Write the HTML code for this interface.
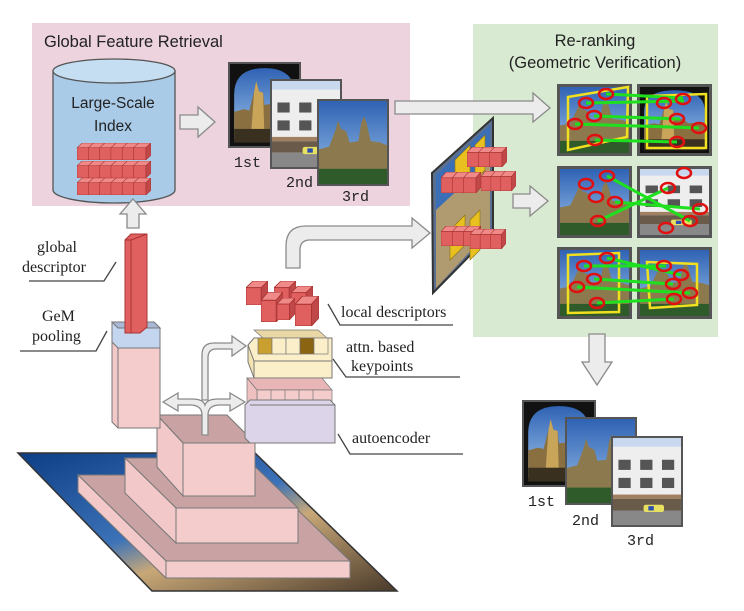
<!DOCTYPE html>
<html><head><meta charset="utf-8"><style>
html,body{margin:0;padding:0;background:#fff}
svg{display:block}
.t{font-family:"Liberation Sans",sans-serif;fill:#222}
.m{font-family:"Liberation Mono",monospace;fill:#222;font-size:15px}
.s{font-family:"Liberation Serif",serif;fill:#222;font-size:16px}
.ar{fill:#ececec;stroke:#8a8a8a;stroke-width:1.3}
.ln{fill:none;stroke:#444;stroke-width:1.3}
</style></head><body>
<svg width="744" height="611" viewBox="0 0 744 611" xmlns="http://www.w3.org/2000/svg">
<defs>
<linearGradient id="sky" x1="0" y1="0" x2="0" y2="1"><stop offset="0" stop-color="#2f62b4"/><stop offset="1" stop-color="#9dc4ea"/></linearGradient>
<linearGradient id="pyr" x1="0" y1="0" x2="1" y2="1"><stop offset="0" stop-color="#0d3e86"/><stop offset="0.45" stop-color="#3c72b8"/><stop offset="0.6" stop-color="#c8a878"/><stop offset="1" stop-color="#4a3a2a"/></linearGradient>
<symbol id="pA" viewBox="0 0 100 120" preserveAspectRatio="none">
<rect width="100" height="120" fill="#111"/>
<path d="M6 110 V45 Q6 6 50 6 Q94 6 94 45 V110Z" fill="url(#sky)"/>
<path d="M6 110 V70 L20 66 L28 68 L35 40 L38 25 L42 40 L48 42 L50 60 L62 58 L70 66 L94 64 V110Z" fill="#8a7040"/>
<path d="M35 40 L38 25 L42 40 L48 42 L50 110 L30 110Z" fill="#c9a55a"/>
<rect x="6" y="95" width="88" height="20" fill="#3a3020"/>
</symbol>
<symbol id="pB" viewBox="0 0 100 120" preserveAspectRatio="none">
<rect width="100" height="120" fill="#eeeeee"/>
<rect y="0" width="100" height="12" fill="#c8d8ee"/>
<rect x="8" y="30" width="18" height="14" fill="#555"/><rect x="40" y="30" width="18" height="14" fill="#555"/><rect x="72" y="30" width="18" height="14" fill="#555"/>
<rect x="8" y="55" width="18" height="14" fill="#555"/><rect x="40" y="55" width="18" height="14" fill="#555"/><rect x="72" y="55" width="18" height="14" fill="#555"/>
<rect x="0" y="78" width="100" height="6" fill="#a08060"/>
<rect x="0" y="84" width="100" height="16" fill="#6a5a4a"/>
<rect x="0" y="100" width="100" height="20" fill="#888"/>
<rect x="45" y="92" width="30" height="10" rx="3" fill="#e8e060"/><rect x="52" y="94" width="8" height="6" fill="#2a4fb0"/>
</symbol>
<symbol id="pC" viewBox="0 0 100 120" preserveAspectRatio="none">
<rect width="100" height="120" fill="url(#sky)"/>
<path d="M0 110 V70 L15 66 L25 40 L28 28 L32 40 L40 44 L45 60 L58 58 L62 32 L66 22 L70 32 L76 58 L90 60 L100 64 V110Z" fill="#8c7a4e"/>
<rect y="98" width="100" height="22" fill="#2f5a2a"/>
</symbol>
<symbol id="cube" viewBox="0 0 16 18" preserveAspectRatio="none">
<polygon points="0,5 5,0 16,0 11,5" fill="#ef8a88" stroke="#a33" stroke-width=".6"/>
<polygon points="11,5 16,0 16,13 11,18" fill="#c04848" stroke="#a33" stroke-width=".6"/>
<rect x="0" y="5" width="11" height="13" fill="#e06060" stroke="#a33" stroke-width=".6"/>
</symbol>
<symbol id="row6" viewBox="0 0 72 18" preserveAspectRatio="none">
<polygon points="0,5 5,0 72,0 67,5" fill="#ef8a88" stroke="#a33" stroke-width=".6"/>
<polygon points="67,5 72,0 72,13 67,18" fill="#c04848" stroke="#a33" stroke-width=".6"/>
<rect x="0" y="5" width="67" height="13" fill="#e06060" stroke="#a33" stroke-width=".6"/>
<path d="M11 5V18M22 5V18M33 5V18M44 5V18M55 5V18M16 0L11 5M27 0L22 5M38 0L33 5M49 0L44 5M60 0L55 5" stroke="#a33" stroke-width=".6"/>
</symbol>
<symbol id="row3" viewBox="0 0 39 18" preserveAspectRatio="none">
<polygon points="0,5 5,0 39,0 34,5" fill="#ef8a88" stroke="#a33" stroke-width=".6"/>
<polygon points="34,5 39,0 39,13 34,18" fill="#c04848" stroke="#a33" stroke-width=".6"/>
<rect x="0" y="5" width="34" height="13" fill="#e06060" stroke="#a33" stroke-width=".6"/>
<path d="M11 5V18M22 5V18M16 0L11 5M27 0L22 5" stroke="#a33" stroke-width=".6"/>
</symbol>
</defs>

<rect x="32" y="23" width="378" height="183" fill="#ecd3dd"/>
<text class="t" x="44" y="47" font-size="16.5">Global Feature Retrieval</text>
<path d="M53 71 V190 A61 13 0 0 0 175 190 V71Z" fill="#a9cbe8" stroke="#555" stroke-width="1.3"/>
<ellipse cx="114" cy="71" rx="61" ry="12" fill="#c6def2" stroke="#555" stroke-width="1.3"/>
<text class="t" x="113" y="108" font-size="15.5" text-anchor="middle">Large-Scale</text>
<text class="t" x="113" y="131" font-size="15.5" text-anchor="middle">Index</text>
<use href="#row6" x="77" y="143" width="74" height="17"/>
<use href="#row6" x="77" y="161" width="74" height="17"/>
<use href="#row6" x="77" y="178" width="74" height="17"/>
<polygon class="ar" points="180,115 198,115 198,107 215,122 198,137 198,129 180,129"/>
<rect x="228" y="62" width="73" height="86" fill="#555"/><use href="#pA" x="230" y="64" width="69" height="82"/>
<rect x="270" y="79" width="72" height="90" fill="#555"/><use href="#pB" x="272" y="81" width="68" height="86"/>
<rect x="317" y="99" width="72" height="87" fill="#555"/><use href="#pC" x="319" y="101" width="68" height="83"/>
<text class="m" x="234" y="167">1st</text>
<text class="m" x="286" y="187">2nd</text>
<text class="m" x="342" y="201">3rd</text>
<rect x="473" y="24" width="245" height="313" fill="#d9ead3"/>
<text class="t" x="595" y="46" font-size="16.5" text-anchor="middle">Re-ranking</text>
<text class="t" x="595" y="68" font-size="16.5" text-anchor="middle">(Geometric Verification)</text>
<polygon class="ar" points="395,101 533,101 533,93 550,108 533,122 533,114 395,114"/>
<polygon class="ar" points="127,228 127,214 120,214 133,199 146,214 139,214 139,228"/>
<g>
<rect x="557" y="84" width="75" height="72" fill="#555"/><use href="#pC" x="560" y="87" width="69" height="66"/>
<rect x="637" y="84" width="75" height="72" fill="#555"/><use href="#pA" x="640" y="87" width="69" height="66"/>
<rect x="557" y="166" width="75" height="72" fill="#555"/><use href="#pC" x="560" y="169" width="69" height="66"/>
<rect x="637" y="166" width="75" height="72" fill="#555"/><use href="#pB" x="640" y="169" width="69" height="66"/>
<rect x="557" y="247" width="75" height="72" fill="#555"/><use href="#pC" x="560" y="250" width="69" height="66"/>
<rect x="637" y="247" width="75" height="72" fill="#555"/><use href="#pC" x="640" y="250" width="69" height="66"/>
</g>
<g fill="none" stroke="#f0e020" stroke-width="2.5">
<polygon points="568,97 628,87 627,137 568,150"/>
<polygon points="647,96 706,94 706,148 647,148"/>
<polygon points="568,255 619,253 619,312 568,313"/>
<polygon points="647,262 697,264 697,305 650,308"/>
</g>
<g stroke="#1ee01e" stroke-width="3">
<line x1="606" y1="94" x2="683" y2="98"/><line x1="586" y1="103" x2="684" y2="101"/>
<line x1="594" y1="116" x2="680" y2="119"/><line x1="575" y1="124" x2="699" y2="128"/>
<line x1="595" y1="140" x2="677" y2="142"/>
<line x1="607" y1="176" x2="690" y2="221"/><line x1="598" y1="221" x2="668" y2="188"/>
<line x1="615" y1="202" x2="700" y2="209"/>
<line x1="607" y1="258" x2="681" y2="275"/><line x1="584" y1="266" x2="666" y2="266"/>
<line x1="594" y1="279" x2="673" y2="284"/><line x1="577" y1="287" x2="690" y2="293"/>
<line x1="597" y1="303" x2="674" y2="299"/>
</g>
<g fill="none" stroke="#e01010" stroke-width="2.5">
<ellipse cx="606" cy="94" rx="7" ry="5"/><ellipse cx="586" cy="103" rx="7" ry="5"/><ellipse cx="594" cy="116" rx="7" ry="5"/><ellipse cx="575" cy="124" rx="7" ry="5"/><ellipse cx="595" cy="140" rx="7" ry="5"/>
<ellipse cx="683" cy="99" rx="7" ry="5"/><ellipse cx="664" cy="103" rx="7" ry="5"/><ellipse cx="677" cy="119" rx="7" ry="5"/><ellipse cx="699" cy="128" rx="7" ry="5"/><ellipse cx="677" cy="142" rx="7" ry="5"/>
<ellipse cx="607" cy="176" rx="7" ry="5"/><ellipse cx="586" cy="184" rx="7" ry="5"/><ellipse cx="596" cy="197" rx="7" ry="5"/><ellipse cx="615" cy="202" rx="7" ry="5"/><ellipse cx="598" cy="221" rx="7" ry="5"/>
<ellipse cx="684" cy="173" rx="7" ry="5"/><ellipse cx="668" cy="188" rx="7" ry="5"/><ellipse cx="700" cy="209" rx="7" ry="5"/><ellipse cx="690" cy="221" rx="7" ry="5"/><ellipse cx="666" cy="228" rx="7" ry="5"/>
<ellipse cx="607" cy="258" rx="7" ry="5"/><ellipse cx="584" cy="266" rx="7" ry="5"/><ellipse cx="594" cy="279" rx="7" ry="5"/><ellipse cx="577" cy="287" rx="7" ry="5"/><ellipse cx="597" cy="303" rx="7" ry="5"/>
<ellipse cx="664" cy="266" rx="7" ry="5"/><ellipse cx="681" cy="275" rx="7" ry="5"/><ellipse cx="673" cy="284" rx="7" ry="5"/><ellipse cx="690" cy="293" rx="7" ry="5"/><ellipse cx="674" cy="299" rx="7" ry="5"/>
</g>
<polygon points="432,173 493,118 493,232 433,293" fill="#5a6f8f" stroke="#333" stroke-width="2"/>
<polygon points="436,175 490,125 490,160 436,210" fill="#3a6fb8"/>
<polygon points="436,210 490,160 490,230 436,288" fill="#b09a70"/>
<g fill="#e8c020" stroke="#8a7010" stroke-width=".6">
<polygon points="455,160 470,145 470,175 455,190"/><polygon points="475,145 485,135 485,170 475,180"/>
<polygon points="450,230 465,215 465,245 450,260"/><polygon points="470,220 480,210 480,250 470,260"/>
</g>
<use href="#row3" x="467" y="147" width="40" height="20"/>
<use href="#row3" x="441" y="172" width="40" height="21"/>
<use href="#row3" x="481" y="171" width="35" height="20"/>
<use href="#row3" x="441" y="226" width="40" height="20"/>
<use href="#row3" x="470" y="229" width="36" height="20"/>
<polygon class="ar" points="513,194 530,194 530,186 548,201 530,216 530,208 513,208"/>
<path class="ar" d="M286 268 V246 Q286 226 306 226 H412 V218 L430 233 L412 248 V240 H310 Q300 240 300 250 V268Z"/>
<polygon class="ar" points="589,334 605,334 605,362 612,362 597,385 582,362 589,362"/>
<rect x="522" y="400" width="74" height="87" fill="#555"/><use href="#pA" x="524" y="402" width="70" height="83"/>
<rect x="565" y="417" width="72" height="88" fill="#555"/><use href="#pC" x="567" y="419" width="68" height="84"/>
<rect x="611" y="436" width="72" height="91" fill="#555"/><use href="#pB" x="613" y="438" width="68" height="87"/>
<text class="m" x="528" y="506">1st</text>
<text class="m" x="572" y="525">2nd</text>
<text class="m" x="627" y="545">3rd</text>
<polygon points="18,453 255,453 397,591 152,591" fill="url(#pyr)" stroke="#333" stroke-width="1.5"/>
<polygon points="78,475 262,475 350,561 166,561" fill="#c9a3a3" stroke="#777"/>
<polygon points="78,475 166,561 166,578 78,492" fill="#f2c8c8" stroke="#777"/>
<rect x="166" y="561" width="184" height="17" fill="#f4cccc" stroke="#777"/>
<polygon points="125,458 246,458 298,508 176,508" fill="#c9a3a3" stroke="#777"/>
<polygon points="125,458 176,508 176,543 125,493" fill="#f2c8c8" stroke="#777"/>
<rect x="176" y="508" width="122" height="35" fill="#f4cccc" stroke="#777"/>
<polygon points="157,415 227,415 255,443 183,443" fill="#c9a3a3" stroke="#777"/>
<polygon points="157,415 183,443 183,496 157,467" fill="#f2c8c8" stroke="#777"/>
<rect x="183" y="443" width="72" height="53" fill="#f4cccc" stroke="#777"/>
<polygon points="112,328 154,328 160,334 160,428 118,428 112,422" fill="#f2c8c8" stroke="#777"/>
<rect x="118" y="348" width="42" height="80" fill="#f4cccc" stroke="#777"/>
<polygon points="112,322 154,322 160,328 160,348 118,348 112,342" fill="#c3d5ef" stroke="#777"/>
<polygon points="112,322 154,322 160,328 118,328" fill="#a8b8d6" stroke="#777"/>
<polygon points="125,240 131,234 147,234 147,327 140,333 125,333" fill="#e06060" stroke="#a33"/>
<line x1="131" y1="240" x2="131" y2="333" stroke="#a33"/>
<line x1="125" y1="240" x2="131" y2="240" stroke="#a33"/>
<line x1="131" y1="240" x2="147" y2="234" stroke="#a33"/>
<path class="ar" d="M202 435 V415 Q202 405 190 405 H178 V411 L163 402 L178 393 V399 H192 Q203 399 205 405 Q207 399 218 399 H230 V393 L245 402 L230 411 V405 H220 Q208 405 208 415 V435Z"/>
<path class="ar" d="M202 400 V355 Q202 343 214 343 H232 V336 L246 346 L232 356 V349 H216 Q208 349 208 358 V400Z"/>
<use href="#cube" x="246" y="281" width="22" height="24"/>
<use href="#cube" x="274" y="281" width="22" height="24"/>
<use href="#cube" x="291" y="286" width="22" height="24"/>
<use href="#cube" x="261" y="292" width="22" height="30"/>
<use href="#cube" x="295" y="296" width="24" height="30"/>
<use href="#cube" x="277" y="298" width="18" height="22"/>
<polygon points="248,345 254,338 332,338 332,361 248,361" fill="#fbefc9" stroke="#777"/>
<rect x="254" y="361" width="78" height="17" fill="#fbefc9" stroke="#777"/>
<polygon points="248,345 254,361 254,378 248,362" fill="#f3e2b2" stroke="#777"/>
<g stroke="#777" stroke-width=".7">
<polygon points="254,330 318,330 327,338 263,338" fill="#e9d8a6"/>
<rect x="258" y="338" width="14" height="16" fill="#c9a030"/>
<rect x="272" y="338" width="14" height="16" fill="#fbefc9"/>
<rect x="286" y="338" width="14" height="16" fill="#fbefc9"/>
<rect x="300" y="338" width="14" height="16" fill="#8a6410"/>
<rect x="314" y="338" width="14" height="16" fill="#fbefc9"/>
</g>
<g stroke="#777" stroke-width=".7">
<polygon points="247,378 322,378 332,390 257,390" fill="#e8b6b6"/>
<rect x="257" y="390" width="75" height="28" fill="#f4cccc"/>
<path d="M271 390V418M285 390V418M299 390V418M313 390V418" />
<polygon points="247,378 257,390 257,418 247,406" fill="#eec0c0"/>
</g>
<polygon points="245,405 250,400 330,400 335,405 335,443 250,443 245,438" fill="#dcd5ea" stroke="#777"/>
<line x1="250" y1="405" x2="335" y2="405" stroke="#777"/>
<text class="s" x="37" y="252">global</text>
<text class="s" x="22" y="272">descriptor</text>
<path class="ln" d="M29 281 H104 L116 262"/>
<text class="s" x="42" y="321">GeM</text>
<text class="s" x="32" y="341">pooling</text>
<path class="ln" d="M20 351 H96 L107 331"/>
<text class="s" x="341" y="317">local descriptors</text>
<path class="ln" d="M328 304 L340 325 H453"/>
<text class="s" x="346" y="352">attn. based</text>
<text class="s" x="351" y="371">keypoints</text>
<path class="ln" d="M333 359 L346 377 H460"/>
<text class="s" x="352" y="443">autoencoder</text>
<path class="ln" d="M338 434 L350 454 H463"/>
</svg>
</body></html>
